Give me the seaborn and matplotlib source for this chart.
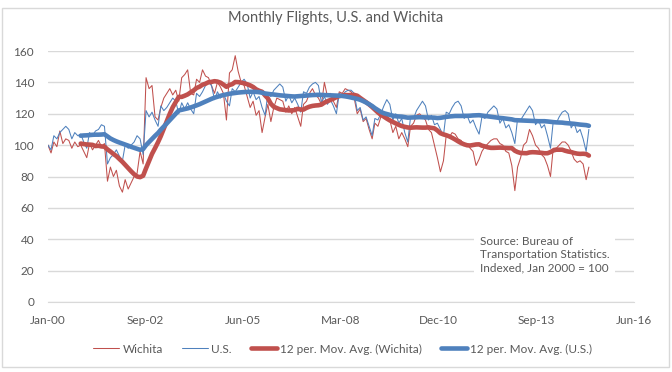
import pandas as pd
import seaborn as sns
import matplotlib.pyplot as plt
from matplotlib.patches import Rectangle

# monthly index values, Jan 2000 = 100, Jan 2000 .. Mar 2015
wichita = [
    100, 95, 102, 99, 109, 101, 104, 103, 98, 102, 99, 100,          # 2000
    96, 92, 101, 97, 100, 103, 99, 101, 77, 86, 80, 84,              # 2001
    74, 70, 78, 72, 76, 80, 82, 96, 88, 143, 136, 138,               # 2002
    118, 116, 124, 130, 133, 136, 132, 135, 128, 143, 145, 148,      # 2003
    133, 132, 142, 140, 148, 144, 143, 138, 133, 140, 137, 133,      # 2004
    116, 146, 148, 157, 147, 140, 138, 131, 124, 128, 119, 122,      # 2005
    108, 118, 126, 115, 124, 130, 129, 128, 121, 125, 120, 124,      # 2006
    118, 112, 126, 128, 133, 136, 132, 130, 126, 140, 131, 133,      # 2007
    128, 124, 134, 133, 136, 135, 134, 130, 120, 123, 115, 117,      # 2008
    110, 104, 114, 112, 118, 121, 119, 116, 108, 112, 104, 108,      # 2009
    104, 99, 112, 114, 119, 120, 118, 116, 110, 108, 100, 92,        # 2010
    83, 90, 106, 105, 108, 107, 104, 103, 100, 101, 98, 96,          # 2011
    87, 91, 96, 99, 101, 103, 104, 104, 101, 100, 96, 95,            # 2012
    87, 71, 86, 92, 100, 102, 110, 106, 100, 98, 94, 92,             # 2013
    87, 80, 98, 98, 100, 102, 102, 100, 96, 91, 89, 90,              # 2014
    88, 78, 86,                                                      # 2015
]
us = [
    100, 97, 106, 104, 108, 110, 112, 110, 104, 108, 106, 107,       # 2000
    102, 98, 108, 106, 109, 110, 113, 112, 88, 92, 94, 97,           # 2001
    93, 90, 100, 98, 100, 102, 106, 104, 94, 122, 118, 121,          # 2002
    116, 112, 125, 122, 124, 127, 130, 128, 120, 127, 123, 127,      # 2003
    123, 120, 133, 131, 134, 138, 140, 138, 129, 134, 130, 133,      # 2004
    128, 125, 136, 134, 137, 140, 142, 139, 130, 134, 129, 131,      # 2005
    124, 119, 133, 131, 135, 137, 139, 137, 128, 132, 127, 130,      # 2006
    126, 121, 134, 133, 137, 139, 140, 138, 127, 131, 126, 129,      # 2007
    125, 120, 133, 131, 134, 135, 135, 133, 122, 124, 116, 118,      # 2008
    112, 106, 117, 116, 120, 125, 129, 126, 116, 120, 114, 117,      # 2009
    108, 102, 118, 117, 122, 125, 128, 125, 116, 119, 113, 114,      # 2010
    110, 106, 121, 120, 124, 127, 128, 125, 117, 119, 114, 116,      # 2011
    111, 107, 118, 117, 121, 123, 125, 123, 114, 117, 111, 113,      # 2012
    108, 101, 117, 116, 119, 122, 125, 122, 113, 116, 111, 113,      # 2013
    106, 98, 115, 114, 118, 121, 122, 120, 111, 114, 108, 110,       # 2014
    104, 96, 110,                                                    # 2015
]
tick_labels_fmt = "%b-%y"

RED = "#C0504D"
BLUE = "#4F81BD"
GRID = "#D9D9D9"
TXT = "#595959"

df = pd.DataFrame({
    "date": pd.date_range("2000-01-01", periods=len(us), freq="MS"),
    "Wichita": wichita,
    "U.S.": us,
})
df["ma_w"] = df["Wichita"].rolling(12).mean()
df["ma_us"] = df["U.S."].rolling(12).mean()

sns.set_style("white")
plt.rcParams["font.family"] = ["Lato", "DejaVu Sans"]

fig = plt.figure(figsize=(6.72, 3.72), dpi=100)
ax = fig.add_axes([48 / 672, 1 - 302 / 372, 586 / 672, 251 / 372])

sns.lineplot(data=df, x="date", y="Wichita", color=RED, lw=0.75, ax=ax, label="Wichita")
sns.lineplot(data=df, x="date", y="U.S.", color=BLUE, lw=0.75, ax=ax, label="U.S.")
sns.lineplot(data=df, x="date", y="ma_w", color=RED, lw=3.3, ax=ax,
             label="12 per. Mov. Avg. (Wichita)")
sns.lineplot(data=df, x="date", y="ma_us", color=BLUE, lw=3.3, ax=ax,
             label="12 per. Mov. Avg. (U.S.)")

start = pd.Timestamp("2000-01-01")
ticks = [start + pd.Timedelta(days=1000 * i) for i in range(7)]
ax.set_xlim(ticks[0], ticks[-1])
ax.set_xticks(ticks)
ax.set_xticklabels([t.strftime(tick_labels_fmt) for t in ticks])
ax.set_ylim(0, 160)
ax.set_yticks(range(0, 161, 20))
ax.grid(axis="y", color=GRID, lw=1)
ax.set_axisbelow(True)
for s in ["top", "right", "left"]:
    ax.spines[s].set_visible(False)
ax.spines["bottom"].set_color(GRID)
ax.tick_params(axis="both", length=0, labelsize=8.5, labelcolor=TXT)
ax.tick_params(axis="y", pad=10)
ax.tick_params(axis="x", pad=9)
ax.set_xlabel("")
ax.set_ylabel("")

ax.legend_.remove()
h, l = ax.get_legend_handles_labels()
fig.legend(h, l, ncol=4, loc="center", bbox_to_anchor=(0.51, 1 - 349 / 372),
           frameon=False, fontsize=8.5, labelcolor=TXT, handlelength=2.2,
           handletextpad=0.3, columnspacing=1.6)

fig.text(0.5, 1 - 18 / 372, "Monthly Flights, U.S. and Wichita", ha="center",
         va="center", fontsize=10.5, color=TXT)

fig.text(480 / 672, 1 - 236 / 372,
         "Source: Bureau of\nTransportation Statistics.\nIndexed, Jan 2000 = 100",
         ha="left", va="top", fontsize=8.5, color=TXT, linespacing=1.25,
         bbox=dict(facecolor="white", edgecolor="none", pad=4))

fig.patches.append(Rectangle((2 / 672, 5 / 372), 667 / 672, 359 / 372,
                             transform=fig.transFigure, fill=False,
                             edgecolor=GRID, lw=1))

fig.savefig("out.png", dpi=100)
